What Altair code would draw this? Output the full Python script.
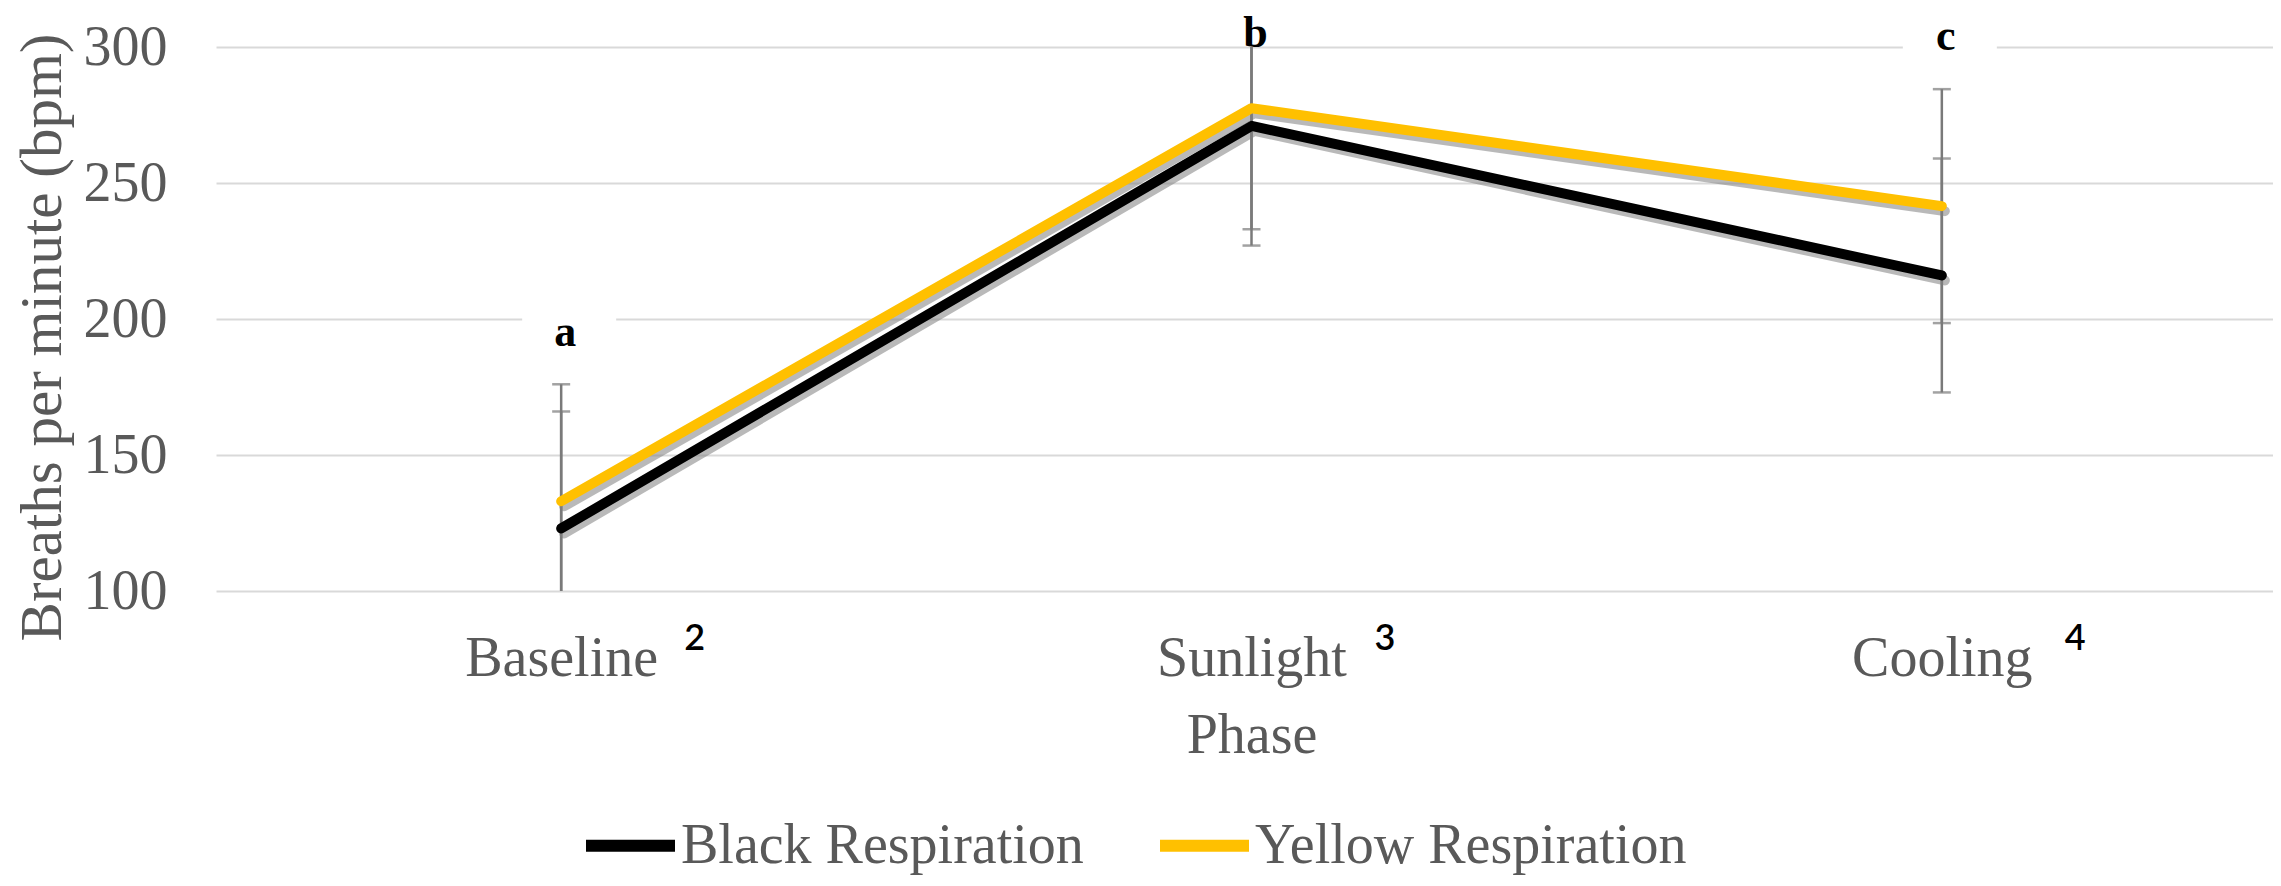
import altair as alt
import pandas as pd

# ---- data ----
phases = ["Baseline", "Sunlight", "Cooling"]
superscripts = ["2", "3", "4"]
series_names = ["Black Respiration", "Yellow Respiration"]
black_vals = [123, 271, 216]
black_err = [43, 44, 43]
yellow_vals = [133, 277.5, 241.5]
yellow_err = [43, 44.5, 43]
letters = ["a", "b", "c"]
letter_pos = [190, 300, 299]
letter_boxed = [True, False, True]
y_ticks = [100, 150, 200, 250, 300]

rows = []
for name, vals, errs in [(series_names[0], black_vals, black_err),
                         (series_names[1], yellow_vals, yellow_err)]:
    for p, v, e in zip(phases, vals, errs):
        rows.append({"phase": p, "series": name, "value": v, "lo": v - e, "hi": v + e})
df = pd.DataFrame(rows)
letters_df = pd.DataFrame({"phase": phases, "letter": letters, "pos": letter_pos, "boxed": letter_boxed})
sup_df = pd.DataFrame({"phase": phases, "sup": superscripts})

TXT = "#595959"
FONT = "Liberation Serif"
Y_TITLE = "Breaths per minute (bpm)"

x_axis = alt.Axis(labelFont=FONT, labelFontSize=56, labelColor=TXT, labelPadding=40, labelLimit=0,
                  ticks=False, domain=False, grid=False, labelAngle=0,
                  titleFont=FONT, titleFontSize=56, titleColor=TXT, titleFontWeight="normal",
                  titleY=161, titleBaseline="alphabetic")
x_scale = alt.Scale(type="point", padding=0.5, range=[0, 2071])


def X():
    return alt.X("phase:N", sort=phases, scale=x_scale, axis=x_axis, title="Phase")


y_axis = alt.Axis(values=y_ticks, labelFont=FONT, labelFontSize=56, labelColor=TXT, labelPadding=49,
                  ticks=False, domain=False, grid=True, gridColor="#d9d9d9", gridWidth=2,
                  titleFont=FONT, titleFontSize=59, titleColor=TXT, titleFontWeight="normal",
                  titleAngle=270, titleX=-156, titleY=290, titleBaseline="alphabetic", titleLimit=0)
y_scale = alt.Scale(domain=[100, 300], nice=False, zero=False)


def Y(field):
    return alt.Y(f"{field}:Q", scale=y_scale, axis=y_axis, title=Y_TITLE)


base = alt.Chart(df)

err_rule = base.mark_rule(color="#7a7a7a", strokeWidth=2.5, clip=True).encode(
    x=X(), y=Y("lo"), y2="hi")
cap_hi = base.mark_tick(color="#7a7a7a", thickness=2.5, size=18, clip=True).encode(x=X(), y=Y("hi"))
cap_lo = base.mark_tick(color="#7a7a7a", thickness=2.5, size=18, clip=True).encode(x=X(), y=Y("lo"))

color = alt.Color("series:N",
                  scale=alt.Scale(domain=series_names, range=["#000000", "#FFC000"]),
                  legend=alt.Legend(orient="none", legendX=364, legendY=748, direction="horizontal",
                                    title=None, symbolType="stroke", symbolSize=7921,
                                    symbolStrokeWidth=12, labelFontSize=56, labelFont=FONT,
                                    labelColor=TXT, columnPadding=52, labelOffset=0, labelLimit=0))


def shadow(name):
    return base.mark_line(color="#7f7f7f", opacity=0.55, strokeWidth=10, xOffset=3, yOffset=5,
                          strokeCap="round", strokeJoin="round").encode(
        x=X(), y=Y("value"), detail="series:N").transform_filter(alt.datum.series == name)


def line(name):
    return base.mark_line(strokeWidth=10, strokeCap="round", strokeJoin="round").encode(
        x=X(), y=Y("value"), color=color).transform_filter(alt.datum.series == name)


boxes = alt.Chart(letters_df).mark_point(
    shape="M-1,-0.75H1V0.1H-1Z", size=8836, filled=True, fill="white", strokeWidth=0,
    opacity=1, xOffset=8).encode(x=X(), y=Y("pos")).transform_filter("datum.boxed")

letter_text = alt.Chart(letters_df).mark_text(
    font=FONT, fontSize=44, fontWeight="bold", color="black", baseline="alphabetic", dx=4).encode(
    x=X(), y=Y("pos"), text="letter:N")

sup_text = alt.Chart(sup_df).mark_text(
    font="Lato", fontSize=36, fontWeight=600, color="black", align="left", dx=123,
    baseline="alphabetic").encode(
    x=X(), y=alt.value(603), text="sup:N")

chart = alt.layer(
    err_rule, cap_hi, cap_lo,
    shadow(series_names[0]), line(series_names[0]),
    shadow(series_names[1]), line(series_names[1]),
    boxes, letter_text, sup_text,
).properties(
    width=2057, height=544,
    autosize=alt.AutoSizeParams(type="none"),
    padding={"left": 208, "top": 39, "right": 0, "bottom": 287},
    background="white",
).configure_view(stroke=None)

chart.save("out.html", embed_options={"renderer": "svg", "actions": False})
